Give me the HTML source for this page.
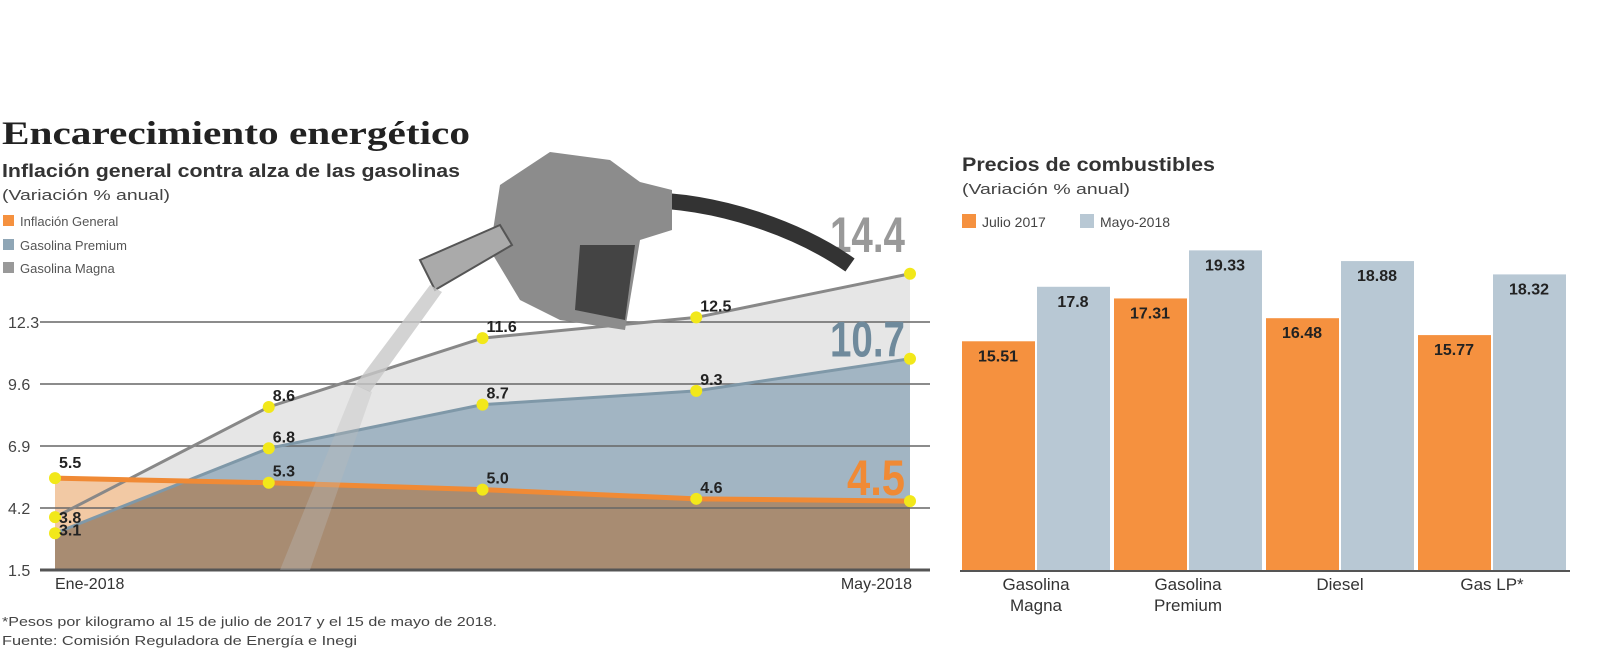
<!DOCTYPE html>
<html><head><meta charset="utf-8">
<style>
html,body{margin:0;padding:0;background:#fff;}
svg{display:block;font-family:"Liberation Sans",sans-serif;}
</style></head>
<body>
<svg width="1606" height="666" viewBox="0 0 1606 666">
<text x="2" y="144" font-family="Liberation Serif,serif" font-weight="bold" font-size="33" fill="#222" textLength="468" lengthAdjust="spacingAndGlyphs">Encarecimiento energético</text>
<text x="2" y="177" font-weight="bold" font-size="18" fill="#333" textLength="458" lengthAdjust="spacingAndGlyphs">Inflación general contra alza de las gasolinas</text>
<text x="2" y="200" font-size="15" fill="#444" textLength="168" lengthAdjust="spacingAndGlyphs">(Variación % anual)</text>
<g font-size="13" fill="#555">
<rect x="3" y="215" width="11" height="11" fill="#f5913f"/><text x="20" y="226">Inflación General</text>
<rect x="3" y="239" width="11" height="11" fill="#8fa6b6"/><text x="20" y="250">Gasolina Premium</text>
<rect x="3" y="262" width="11" height="11" fill="#999"/><text x="20" y="273">Gasolina Magna</text>
</g>
<g id="left"></g>
<g>
<path d="M640 200 C720 200 800 230 850 265" stroke="#333" stroke-width="16" fill="none"/>
<path d="M500 185 L550 152 L610 160 L640 182 L672 190 L672 230 L640 240 L625 330 L560 320 L520 300 L490 250 Z" fill="#8c8c8c"/>
<path d="M580 245 L635 245 L625 320 L575 310 Z" fill="#444"/>
<path d="M420 260 L500 225 L512 245 L435 290 Z" fill="#aaa" stroke="#555" stroke-width="2"/>
<path d="M430 285 L355 385 L370 392 L442 292 Z" fill="#c8c8c8" opacity="0.8"/>
<path d="M355 385 L280 570 L310 570 L372 392 Z" fill="#bbb" opacity="0.35"/>
</g>
<text x="962" y="171" font-weight="bold" font-size="19" fill="#333" textLength="253" lengthAdjust="spacingAndGlyphs">Precios de combustibles</text>
<text x="962" y="194" font-size="15" fill="#444" textLength="168" lengthAdjust="spacingAndGlyphs">(Variación % anual)</text>
<rect x="962" y="214" width="14" height="14" fill="#f5913f"/>
<text x="982" y="227" font-size="14" fill="#444">Julio 2017</text>
<rect x="1080" y="214" width="14" height="14" fill="#b8c8d4"/>
<text x="1100" y="227" font-size="14" fill="#444">Mayo-2018</text>
<g id="right"></g>
<text x="2" y="626" font-size="13" fill="#444" textLength="495" lengthAdjust="spacingAndGlyphs">*Pesos por kilogramo al 15 de julio de 2017 y el 15 de mayo de 2018.</text>
<text x="2" y="645" font-size="13" fill="#444" textLength="355" lengthAdjust="spacingAndGlyphs">Fuente: Comisión Reguladora de Energía e Inegi</text>
</svg>
<script>
const months=["Ene-2018","Feb","Mar","Abr","May-2018"];
const magna=[3.8,8.6,11.6,12.5,14.4];
const premium=[3.1,6.8,8.7,9.3,10.7];
const inflacion=[5.5,5.3,5.0,4.6,4.5];
const yTicks=[1.5,4.2,6.9,9.6,12.3];
const cats=["Gasolina|Magna","Gasolina|Premium","Diesel","Gas LP*"];
const julio=[15.51,17.31,16.48,15.77];
const mayo=[17.8,19.33,18.88,18.32];

const NS="http://www.w3.org/2000/svg";
function mk(p,t,a){const e=document.createElementNS(NS,t);for(const k in a)e.setAttribute(k,a[k]);p.appendChild(e);return e;}
const L=document.getElementById('left');
const x=i=>55+i*(910-55)/(months.length-1);
const y=v=>570-(v-1.5)*(62/2.7);
let g;
for(const t of yTicks){
 g=mk(L,'text',{x:8,y:y(t)+6,'font-size':16,fill:'#444'});g.textContent=t.toFixed(1);
 
 
}
function area(arr){let d=`M${x(0)},570`;arr.forEach((v,i)=>d+=` L${x(i)},${y(v)}`);return d+` L${x(arr.length-1)},570 Z`;}
function line(arr){return arr.map((v,i)=>(i?'L':'M')+x(i)+','+y(v)).join(' ');}
g=mk(L,'path',{d:area(magna),fill:'#e6e6e6'});


g=mk(L,'path',{d:area(inflacion),fill:'#f2c9a4'});


g=mk(L,'path',{d:area(premium),fill:'#a2b5c3'});


const cp=mk(L,'clipPath',{id:'cp'});mk(cp,'path',{d:area(premium)});
g=mk(L,'path',{d:area(inflacion),fill:'#a88c72','clip-path':'url(#cp)'});


for(const t of yTicks){
 g=mk(L,'line',{x1:40,x2:930,y1:y(t),y2:y(t),stroke:t===1.5?'#555':'#666','stroke-width':t===1.5?3:1.5});
 
 
}
g=mk(L,'path',{d:line(magna),stroke:'#888',fill:'none','stroke-width':3});


g=mk(L,'path',{d:line(premium),stroke:'#7f98a8',fill:'none','stroke-width':3});


g=mk(L,'path',{d:line(inflacion),stroke:'#f08a35',fill:'none','stroke-width':5});


[[magna,'magna'],[premium,'premium'],[inflacion,'inflacion']].forEach(([arr,n])=>{
 arr.forEach((v,i)=>{
  g=mk(L,'circle',{cx:x(i),cy:y(v),r:6,fill:'#f2e81a'});
  
  
  if(i<arr.length-1){
   let ly=y(v)-6; if(i===0&&n==='magna')ly=y(v)+6; if(i===0&&n==='premium')ly=y(v)+2; if(i===0&&n==='inflacion')ly=y(v)-10;
   g=mk(L,'text',{x:x(i)+4,y:ly,'font-size':16,'font-weight':'bold',fill:'#222'});g.textContent=v.toFixed(1);
   
   
  }
 });
});
[[magna,'#999','magna',-22],[premium,'#6f8a9c','premium',-2],[inflacion,'#f08a35','inflacion',-6]].forEach(([arr,c,n,dy])=>{
 const v=arr[arr.length-1];
 const w=n==='inflacion'?58:75;
 g=mk(L,'text',{x:905-w,y:y(v)+dy,'font-size':50,'font-weight':'bold',fill:c,textLength:w,lengthAdjust:'spacingAndGlyphs'});
 g.textContent=v.toFixed(1);
 
 
});
g=mk(L,'text',{x:55,y:589,'font-size':16,fill:'#333'});g.textContent=months[0];


g=mk(L,'text',{x:912,y:589,'font-size':16,fill:'#333','text-anchor':'end'});g.textContent=months[4];



const R=document.getElementById('right');
const by=v=>570-(v-5.9)*23.8;
cats.forEach((c,i)=>{
 const x0=962+i*152;
 [[julio[i],'#f5913f',x0,'bar-julio'],[mayo[i],'#b8c8d4',x0+75,'bar-mayo']].forEach(([v,col,bx,n])=>{
  g=mk(R,'rect',{x:bx,y:by(v),width:73,height:570-by(v),fill:col});
  
  
  g=mk(R,'text',{x:bx+36,y:by(v)+20,'text-anchor':'middle','font-size':16,'font-weight':'bold',fill:'#222'});g.textContent=String(v);
  
  
 });
 c.split('|').forEach((s,k)=>{
  g=mk(R,'text',{x:x0+74,y:590+k*21,'text-anchor':'middle','font-size':17,fill:'#333'});g.textContent=s;
  
  
 });
});
g=mk(R,'line',{x1:960,x2:1570,y1:571,y2:571,stroke:'#555','stroke-width':2});


</script>
</body></html>
